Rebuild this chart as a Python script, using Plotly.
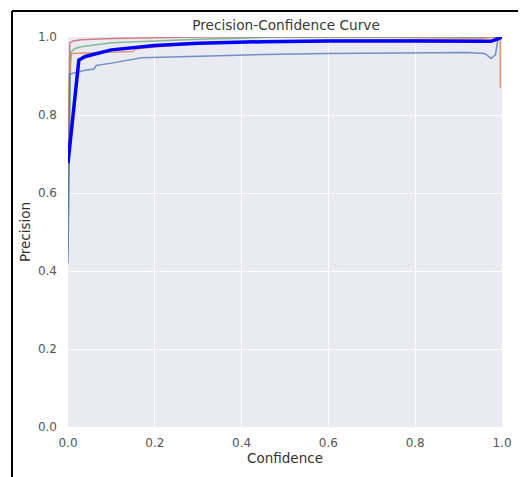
import plotly.graph_objects as go

# ---- data ----
c_all = [0, 0.025, 0.04, 0.1, 0.2, 0.3, 0.45, 0.6, 0.8, 0.95, 0.975, 1.0]
p_all = [0.677, 0.941, 0.950, 0.967, 0.978, 0.984, 0.988, 0.990, 0.990, 0.990, 0.989, 1.0]

c_c0 = [0, 0.004, 0.04, 0.06, 0.065, 0.1, 0.17, 0.3, 0.45, 0.6, 0.8, 0.92, 0.96, 0.975, 0.985, 0.99, 1.0]
p_c0 = [0.42, 0.905, 0.915, 0.918, 0.927, 0.933, 0.947, 0.951, 0.955, 0.958, 0.960, 0.960, 0.958, 0.945, 0.955, 0.99, 1.0]

c_c1 = [0, 0.003, 0.008, 0.1, 0.15, 0.155, 0.22, 0.28, 0.4, 0.6, 0.8, 0.95, 0.99, 0.996, 0.996]
p_c1 = [0.60, 0.90, 0.958, 0.962, 0.963, 0.969, 0.977, 0.983, 0.988, 0.991, 0.993, 0.996, 1.0, 1.0, 0.87]

c_c2 = [0, 0.006, 0.015, 0.03, 0.1, 0.2, 0.3, 0.4, 0.47, 1.0]
p_c2 = [0.45, 0.96, 0.970, 0.975, 0.985, 0.990, 0.994, 0.997, 1.0, 1.0]

c_c3 = [0, 0.004, 0.012, 0.03, 0.1, 0.2, 0.3, 1.0]
p_c3 = [0.55, 0.985, 0.990, 0.993, 0.996, 0.998, 1.0, 1.0]

x_ticks = [0.0, 0.2, 0.4, 0.6, 0.8, 1.0]
y_ticks = [0.0, 0.2, 0.4, 0.6, 0.8, 1.0]

FONT = "DejaVu Sans"

fig = go.Figure()
for cx, py, col in [
    (c_c3, p_c3, "rgba(196,78,82,0.7)"),
    (c_c2, p_c2, "rgba(85,168,104,0.7)"),
    (c_c1, p_c1, "rgba(221,132,82,0.8)"),
    (c_c0, p_c0, "rgba(76,114,176,0.75)"),
]:
    fig.add_trace(go.Scatter(x=cx, y=py, mode="lines",
                             line=dict(color=col, width=1.5), showlegend=False))
fig.add_trace(go.Scatter(x=c_all, y=p_all, mode="lines",
                         line=dict(color="#0000FF", width=3.5), showlegend=False))

# page has an 8px body margin, so the figure is drawn 8px smaller and offset
OFF = 8
W, H = 526 - OFF, 477 - OFF
L, R, T, B = 68 - OFF, 502 - OFF, 37 - OFF, 427 - OFF

def px_x(px):
    return (px - OFF - L) / (R - L)

def px_y(py):
    return (B - (py - OFF)) / (B - T)

fig.add_shape(type="line", xref="paper", yref="paper",
              x0=px_x(12), x1=px_x(540), y0=px_y(11), y1=px_y(11),
              line=dict(color="black", width=2))
fig.add_shape(type="line", xref="paper", yref="paper",
              x0=px_x(12), x1=px_x(12), y0=px_y(11), y1=px_y(490),
              line=dict(color="black", width=2))

fig.update_layout(
    width=W, height=H,
    margin=dict(l=L, r=W - R, t=T, b=H - B, autoexpand=False),
    paper_bgcolor="white",
    plot_bgcolor="#EAEAF2",
    font=dict(family=FONT, size=12, color="#333333"),
    title=dict(text="Precision-Confidence Curve", x=(286 - OFF) / W, xanchor="center",
               xref="container",
               y=1 - (25 - OFF) / H, yanchor="middle", yref="container",
               font=dict(size=13.7, color="#3a3a3a")),
    xaxis=dict(range=[0, 1], tickvals=x_ticks, ticktext=[f"{v:.1f}" for v in x_ticks],
               showgrid=True, gridcolor="white", gridwidth=1.2, zeroline=False,
               showline=False, ticks="", automargin=False, ticklabelstandoff=7,
               tickfont=dict(size=12, color="#555555"),
               title=dict(text="Confidence", font=dict(size=13.5, color="#333333"), standoff=3)),
    yaxis=dict(range=[0, 1.0], tickvals=y_ticks, ticktext=[f"{v:.1f}" for v in y_ticks],
               showgrid=True, gridcolor="white", gridwidth=1.2, zeroline=False,
               showline=False, ticks="", automargin=False, ticklabelstandoff=10,
               tickfont=dict(size=12, color="#555555"),
               title=dict(text="Precision", font=dict(size=13.5, color="#333333"), standoff=4)),
)

fig.write_html("out.html")
